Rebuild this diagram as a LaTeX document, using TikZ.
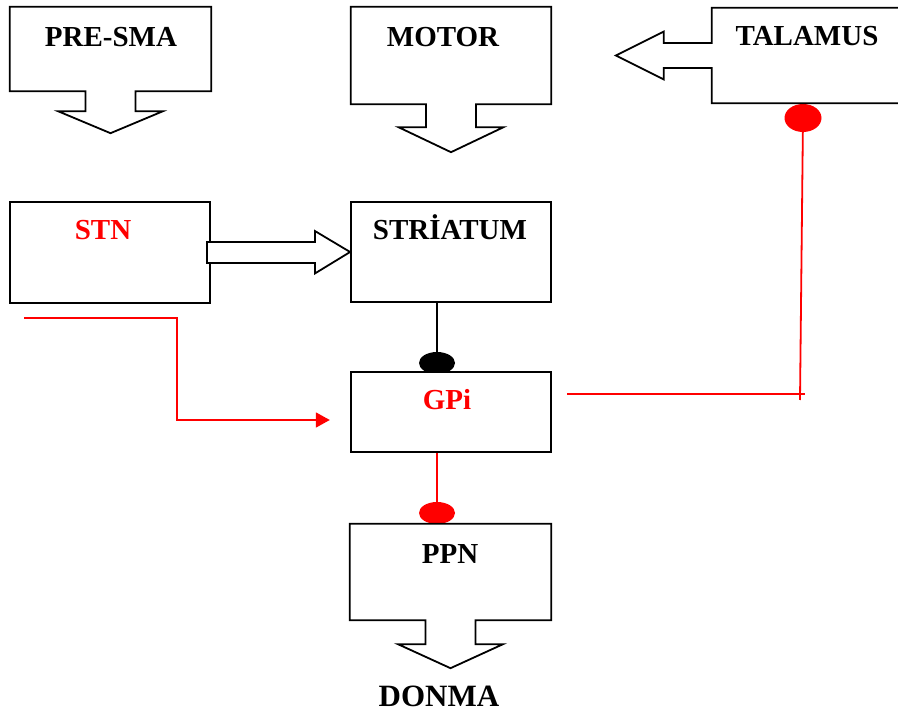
\documentclass[tikz,border=0pt]{standalone}
\usepackage{fontspec}
\setmainfont{Liberation Serif}
\usetikzlibrary{calc,arrows.meta}
\newcommand{\downcallout}[3]{%
  \draw[outline] (#1.south east) -- (#1.north east) -- (#1.north west) -- (#1.south west)
    -- ($(#1.south)+(-25,0)$) -- ($(#1.south)+(-25,#2)$) -- ($(#1.south)+(-52.5,#2)$)
    -- ($(#1.south)+(0,#3)$) -- ($(#1.south)+(52.5,#2)$) -- ($(#1.south)+(25,#2)$)
    -- ($(#1.south)+(25,0)$) -- cycle;}
\begin{document}
\begin{tikzpicture}[x=1pt,y=-1pt,
  outline/.style={draw=black,line width=1.8pt,fill=white,line join=miter},
  boxnode/.style={draw=black,line width=1.8pt,fill=white,rectangle,inner sep=0pt},
  ghost/.style={rectangle,inner sep=0pt},
  txt/.style={font=\fontsize{29}{34}\selectfont\bfseries,anchor=base,inner sep=0pt},
  redline/.style={draw=red,line width=1.8pt},
]
\useasboundingbox (0,0) rectangle (898,711);
\fill[white] (0,0) rectangle (898,711);

% named anchors
\node[ghost,minimum width=201pt,minimum height=84pt] (presma) at (110.5,49) {};
\node[ghost,minimum width=200pt,minimum height=97pt] (motor) at (451,55.5) {};
\node[ghost,minimum width=188pt,minimum height=95pt] (talamus) at (806,55.5) {};
\node[ghost,minimum width=201pt,minimum height=96pt] (ppn) at (450.5,572) {};
\coordinate (bdot) at (437,363);
\coordinate (pdot) at (437,513);
\coordinate (tdot) at (803,118);
\coordinate (rs) at (24,318);

% rectangles
\node[boxnode,minimum width=200pt,minimum height=101pt] (stn) at (110,252.5) {};
\node[boxnode,minimum width=200pt,minimum height=100pt] (striatum) at (451,252) {};

% connectors
\draw[line width=1.8pt] (striatum.south -| bdot) -- (bdot);
\fill[black] (bdot) ellipse [x radius=18, y radius=11];
\node[ghost,minimum width=200pt,minimum height=80pt] (gpi) at (451,412) {};
\coordinate (gr) at ($(gpi.east)+(16,-18)$);
\draw[redline] (gpi.south -| pdot) -- (pdot);
\fill[red] (pdot) ellipse [x radius=18, y radius=11];
\draw[redline] (gr) -- ++(238,0);
\draw[redline] (tdot) -- ($(tdot)+(-3,282)$);
\fill[red] (tdot) ellipse [x radius=18.5, y radius=14];
\draw[redline,-{Triangle[length=14pt,width=15pt]}] (rs) -- ++(153,0) |- ($(gpi.west)+(-21,8)$);

% boxes drawn over dots
\node[boxnode,minimum width=200pt,minimum height=80pt] at (gpi) {};
\downcallout{presma}{20}{42}
\downcallout{motor}{23}{48}
\downcallout{ppn}{24}{48}
\draw[outline] (talamus.north east) -- (talamus.north west) -- ($(talamus.west)+(0,-12.5)$)
  -- ++(-48,0) -- ++(0,-11.5) -- ($(talamus.west)+(-96,0)$) -- ($(talamus.west)+(-48,24)$)
  -- ++(0,-11.5) -- ($(talamus.west)+(0,12.5)$) -- (talamus.south west) -- (talamus.south east);

% thick arrow STN -> STRIATUM
\draw[outline] ($(stn.east)+(-4,-10.5)$) -- ($(stn.east)+(104,-10.5)$) -- ($(stn.east)+(104,-21.5)$)
  -- (striatum.west) -- ($(stn.east)+(104,21)$) -- ($(stn.east)+(104,10.5)$)
  -- ($(stn.east)+(-4,10.5)$) -- cycle;

% texts
\node[txt] (presmaT) at (111,47) {PRE-SMA};
\node[txt] (motorT) at (443,47) {MOTOR};
\node[txt] (talamusT) at (807,46) {TALAMUS};
\node[txt,text=red] (stnT) at (103,240) {STN};
\node[txt] (striatumT) at (450,240) {STRİATUM};
\node[txt,text=red] (gpiT) at (447,410) {GPi};
\node[txt] (ppnT) at (450,563) {PPN};
\node[txt,font=\fontsize{31}{36}\selectfont\bfseries] (donmaT) at (439,706) {DONMA};
\end{tikzpicture}
\end{document}
